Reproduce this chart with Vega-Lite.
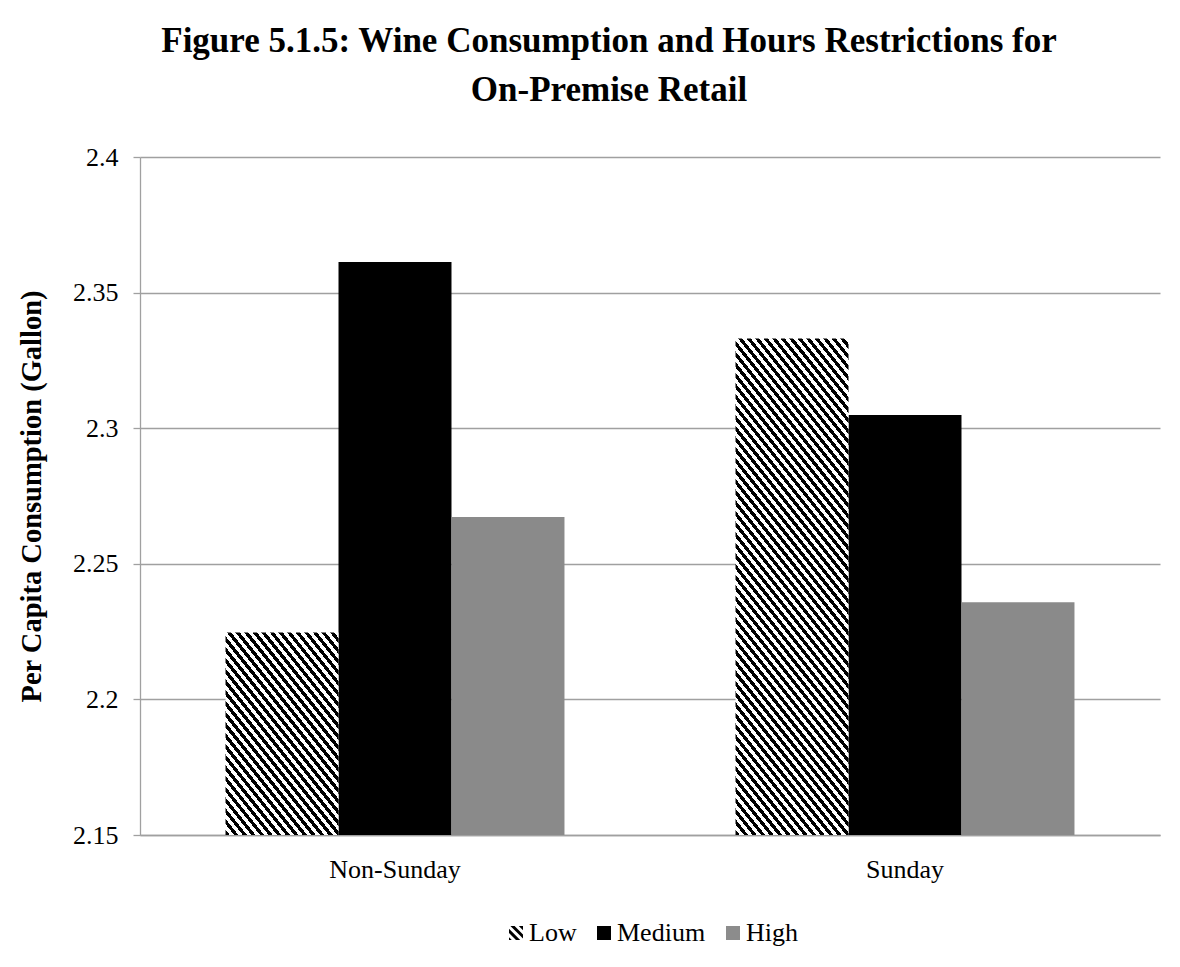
{
  "$schema": "https://vega.github.io/schema/vega-lite/v6.json",
  "width": 1020,
  "height": 678,
  "autosize": {"type": "none"},
  "padding": {"left": 140, "top": 157, "right": 20, "bottom": 132},
  "background": "white",
  "title": {
    "text": ["Figure 5.1.5: Wine Consumption and Hours Restrictions for", "On-Premise Retail"],
    "font": "Liberation Serif",
    "fontSize": 35,
    "fontWeight": "bold",
    "color": "black",
    "lineHeight": 49,
    "anchor": "middle",
    "dx": -41,
    "offset": 36
  },
  "data": {
    "values": [
      {"day": "Non-Sunday", "level": "Low", "value": 2.2247},
      {"day": "Non-Sunday", "level": "Medium", "value": 2.3613},
      {"day": "Non-Sunday", "level": "High", "value": 2.2673},
      {"day": "Sunday", "level": "Low", "value": 2.3331},
      {"day": "Sunday", "level": "Medium", "value": 2.3049},
      {"day": "Sunday", "level": "High", "value": 2.2358}
    ]
  },
  "encoding": {
    "x": {
      "field": "day",
      "type": "nominal",
      "scale": {"domain": ["Non-Sunday", "Sunday"], "paddingInner": 0, "paddingOuter": 0},
      "axis": {
        "title": null,
        "labelAngle": 0,
        "labelFont": "Liberation Serif",
        "labelFontSize": 26,
        "labelColor": "black",
        "ticks": false,
        "labelPadding": 21,
        "domainColor": "#a0a0a0",
        "domainWidth": 1.3,
        "grid": false
      }
    },
    "xOffset": {
      "field": "level",
      "type": "nominal",
      "scale": {"domain": ["Low", "Medium", "High"], "paddingInner": 0, "paddingOuter": 0.757}
    },
    "y": {
      "field": "value",
      "type": "quantitative",
      "scale": {"domain": [2.15, 2.4], "zero": false, "nice": false},
      "axis": {
        "title": "Per Capita Consumption (Gallon)",
        "titleFont": "Liberation Serif",
        "titleFontSize": 28.5,
        "titleFontWeight": "bold",
        "titleColor": "black",
        "titlePadding": 26,
        "values": [2.15, 2.2, 2.25, 2.3, 2.35, 2.4],
        "format": "~g",
        "labelFont": "Liberation Serif",
        "labelFontSize": 26,
        "labelColor": "black",
        "labelPadding": 15,
        "tickSize": 7,
        "tickColor": "#a0a0a0",
        "tickWidth": 1.3,
        "domainColor": "#a0a0a0",
        "domainWidth": 1.3,
        "grid": true,
        "gridColor": "#a0a0a0",
        "gridWidth": 1.3
      }
    }
  },
  "layer": [
    {
      "mark": {"type": "point", "filled": true, "opacity": 0},
      "encoding": {
        "color": {
          "field": "level",
          "type": "nominal",
          "scale": {"domain": ["Low", "Medium", "High"], "range": ["#000000", "#000000", "#8c8c8c"]},
          "legend": {
            "title": null,
            "orient": "bottom",
            "direction": "horizontal",
            "symbolSize": 196,
            "symbolOpacity": 1,
            "symbolStrokeWidth": 0,
            "labelFont": "Liberation Serif",
            "labelFontSize": 26,
            "labelColor": "black",
            "labelOffset": 0,
            "columnPadding": 14,
            "offset": 38
          }
        },
        "shape": {
          "field": "level",
          "type": "nominal",
          "scale": {
            "domain": ["Low", "Medium", "High"],
            "range": ["M0.4,-1L1,-1L1,-0.4Z M-0.8,-1L-0.2,-1L1,0.2L1,0.8Z M-1,-0.6L-1,0L0,1L0.6,1Z M-1,0.6L-1,1L-0.6,1Z", "square", "square"]
          },
          "legend": {
            "title": null,
            "orient": "bottom",
            "direction": "horizontal",
            "symbolSize": 196,
            "symbolOpacity": 1,
            "symbolStrokeWidth": 0,
            "labelFont": "Liberation Serif",
            "labelFontSize": 26,
            "labelColor": "black",
            "labelOffset": 0,
            "columnPadding": 14,
            "offset": 38
          }
        }
      }
    },
    {
      "transform": [{"filter": "datum.level === 'Medium'"}],
      "mark": {"type": "bar", "fill": "#000000"},
      "encoding": {"y2": {"datum": 2.15}}
    },
    {
      "transform": [{"filter": "datum.level === 'High'"}],
      "mark": {"type": "bar", "fill": "#8a8a8a"},
      "encoding": {"y2": {"datum": 2.15}}
    },
    {
      "transform": [{"filter": "datum.day === 'Non-Sunday' && datum.level === 'Low'"}],
      "mark": {
        "type": "bar",
        "fill": {
            "gradient": "linear", "x1": 0, "y1": 1, "x2": 0.7962, "y2": -0.142,
            "stops": [
{"offset":0,"color":"#000"},
{"offset":0.0156,"color":"#000"},{"offset":0.0156,"color":"#fff"},
{"offset":0.0313,"color":"#fff"},{"offset":0.0313,"color":"#000"},
{"offset":0.0469,"color":"#000"},{"offset":0.0469,"color":"#fff"},
{"offset":0.0625,"color":"#fff"},{"offset":0.0625,"color":"#000"},
{"offset":0.0781,"color":"#000"},{"offset":0.0781,"color":"#fff"},
{"offset":0.0938,"color":"#fff"},{"offset":0.0938,"color":"#000"},
{"offset":0.1094,"color":"#000"},{"offset":0.1094,"color":"#fff"},
{"offset":0.125,"color":"#fff"},{"offset":0.125,"color":"#000"},
{"offset":0.1406,"color":"#000"},{"offset":0.1406,"color":"#fff"},
{"offset":0.1563,"color":"#fff"},{"offset":0.1563,"color":"#000"},
{"offset":0.1719,"color":"#000"},{"offset":0.1719,"color":"#fff"},
{"offset":0.1875,"color":"#fff"},{"offset":0.1875,"color":"#000"},
{"offset":0.2031,"color":"#000"},{"offset":0.2031,"color":"#fff"},
{"offset":0.2188,"color":"#fff"},{"offset":0.2188,"color":"#000"},
{"offset":0.2344,"color":"#000"},{"offset":0.2344,"color":"#fff"},
{"offset":0.25,"color":"#fff"},{"offset":0.25,"color":"#000"},
{"offset":0.2656,"color":"#000"},{"offset":0.2656,"color":"#fff"},
{"offset":0.2813,"color":"#fff"},{"offset":0.2813,"color":"#000"},
{"offset":0.2969,"color":"#000"},{"offset":0.2969,"color":"#fff"},
{"offset":0.3125,"color":"#fff"},{"offset":0.3125,"color":"#000"},
{"offset":0.3281,"color":"#000"},{"offset":0.3281,"color":"#fff"},
{"offset":0.3438,"color":"#fff"},{"offset":0.3438,"color":"#000"},
{"offset":0.3594,"color":"#000"},{"offset":0.3594,"color":"#fff"},
{"offset":0.375,"color":"#fff"},{"offset":0.375,"color":"#000"},
{"offset":0.3906,"color":"#000"},{"offset":0.3906,"color":"#fff"},
{"offset":0.4063,"color":"#fff"},{"offset":0.4063,"color":"#000"},
{"offset":0.4219,"color":"#000"},{"offset":0.4219,"color":"#fff"},
{"offset":0.4375,"color":"#fff"},{"offset":0.4375,"color":"#000"},
{"offset":0.4531,"color":"#000"},{"offset":0.4531,"color":"#fff"},
{"offset":0.4688,"color":"#fff"},{"offset":0.4688,"color":"#000"},
{"offset":0.4844,"color":"#000"},{"offset":0.4844,"color":"#fff"},
{"offset":0.5,"color":"#fff"},{"offset":0.5,"color":"#000"},
{"offset":0.5156,"color":"#000"},{"offset":0.5156,"color":"#fff"},
{"offset":0.5313,"color":"#fff"},{"offset":0.5313,"color":"#000"},
{"offset":0.5469,"color":"#000"},{"offset":0.5469,"color":"#fff"},
{"offset":0.5625,"color":"#fff"},{"offset":0.5625,"color":"#000"},
{"offset":0.5781,"color":"#000"},{"offset":0.5781,"color":"#fff"},
{"offset":0.5938,"color":"#fff"},{"offset":0.5938,"color":"#000"},
{"offset":0.6094,"color":"#000"},{"offset":0.6094,"color":"#fff"},
{"offset":0.625,"color":"#fff"},{"offset":0.625,"color":"#000"},
{"offset":0.6406,"color":"#000"},{"offset":0.6406,"color":"#fff"},
{"offset":0.6563,"color":"#fff"},{"offset":0.6563,"color":"#000"},
{"offset":0.6719,"color":"#000"},{"offset":0.6719,"color":"#fff"},
{"offset":0.6875,"color":"#fff"},{"offset":0.6875,"color":"#000"},
{"offset":0.7031,"color":"#000"},{"offset":0.7031,"color":"#fff"},
{"offset":0.7188,"color":"#fff"},{"offset":0.7188,"color":"#000"},
{"offset":0.7344,"color":"#000"},{"offset":0.7344,"color":"#fff"},
{"offset":0.75,"color":"#fff"},{"offset":0.75,"color":"#000"},
{"offset":0.7656,"color":"#000"},{"offset":0.7656,"color":"#fff"},
{"offset":0.7813,"color":"#fff"},{"offset":0.7813,"color":"#000"},
{"offset":0.7969,"color":"#000"},{"offset":0.7969,"color":"#fff"},
{"offset":0.8125,"color":"#fff"},{"offset":0.8125,"color":"#000"},
{"offset":0.8281,"color":"#000"},{"offset":0.8281,"color":"#fff"},
{"offset":0.8438,"color":"#fff"},{"offset":0.8438,"color":"#000"},
{"offset":0.8594,"color":"#000"},{"offset":0.8594,"color":"#fff"},
{"offset":0.875,"color":"#fff"},{"offset":0.875,"color":"#000"},
{"offset":0.8906,"color":"#000"},{"offset":0.8906,"color":"#fff"},
{"offset":0.9063,"color":"#fff"},{"offset":0.9063,"color":"#000"},
{"offset":0.9219,"color":"#000"},{"offset":0.9219,"color":"#fff"},
{"offset":0.9375,"color":"#fff"},{"offset":0.9375,"color":"#000"},
{"offset":0.9531,"color":"#000"},{"offset":0.9531,"color":"#fff"},
{"offset":0.9688,"color":"#fff"},{"offset":0.9688,"color":"#000"},
{"offset":0.9844,"color":"#000"},{"offset":0.9844,"color":"#fff"},
{"offset":1,"color":"#fff"}
            ]
        }
      },
      "encoding": {"y2": {"datum": 2.15}}
    },
    {
      "transform": [{"filter": "datum.day === 'Sunday' && datum.level === 'Low'"}],
      "mark": {
        "type": "bar",
        "fill": {
            "gradient": "linear", "x1": 0, "y1": 1, "x2": 0.338, "y2": -0.1883,
            "stops": [
{"offset":0,"color":"#000"},
{"offset":0.0083,"color":"#000"},{"offset":0.0083,"color":"#fff"},
{"offset":0.0167,"color":"#fff"},{"offset":0.0167,"color":"#000"},
{"offset":0.025,"color":"#000"},{"offset":0.025,"color":"#fff"},
{"offset":0.0333,"color":"#fff"},{"offset":0.0333,"color":"#000"},
{"offset":0.0417,"color":"#000"},{"offset":0.0417,"color":"#fff"},
{"offset":0.05,"color":"#fff"},{"offset":0.05,"color":"#000"},
{"offset":0.0583,"color":"#000"},{"offset":0.0583,"color":"#fff"},
{"offset":0.0667,"color":"#fff"},{"offset":0.0667,"color":"#000"},
{"offset":0.075,"color":"#000"},{"offset":0.075,"color":"#fff"},
{"offset":0.0833,"color":"#fff"},{"offset":0.0833,"color":"#000"},
{"offset":0.0917,"color":"#000"},{"offset":0.0917,"color":"#fff"},
{"offset":0.1,"color":"#fff"},{"offset":0.1,"color":"#000"},
{"offset":0.1083,"color":"#000"},{"offset":0.1083,"color":"#fff"},
{"offset":0.1167,"color":"#fff"},{"offset":0.1167,"color":"#000"},
{"offset":0.125,"color":"#000"},{"offset":0.125,"color":"#fff"},
{"offset":0.1333,"color":"#fff"},{"offset":0.1333,"color":"#000"},
{"offset":0.1417,"color":"#000"},{"offset":0.1417,"color":"#fff"},
{"offset":0.15,"color":"#fff"},{"offset":0.15,"color":"#000"},
{"offset":0.1583,"color":"#000"},{"offset":0.1583,"color":"#fff"},
{"offset":0.1667,"color":"#fff"},{"offset":0.1667,"color":"#000"},
{"offset":0.175,"color":"#000"},{"offset":0.175,"color":"#fff"},
{"offset":0.1833,"color":"#fff"},{"offset":0.1833,"color":"#000"},
{"offset":0.1917,"color":"#000"},{"offset":0.1917,"color":"#fff"},
{"offset":0.2,"color":"#fff"},{"offset":0.2,"color":"#000"},
{"offset":0.2083,"color":"#000"},{"offset":0.2083,"color":"#fff"},
{"offset":0.2167,"color":"#fff"},{"offset":0.2167,"color":"#000"},
{"offset":0.225,"color":"#000"},{"offset":0.225,"color":"#fff"},
{"offset":0.2333,"color":"#fff"},{"offset":0.2333,"color":"#000"},
{"offset":0.2417,"color":"#000"},{"offset":0.2417,"color":"#fff"},
{"offset":0.25,"color":"#fff"},{"offset":0.25,"color":"#000"},
{"offset":0.2583,"color":"#000"},{"offset":0.2583,"color":"#fff"},
{"offset":0.2667,"color":"#fff"},{"offset":0.2667,"color":"#000"},
{"offset":0.275,"color":"#000"},{"offset":0.275,"color":"#fff"},
{"offset":0.2833,"color":"#fff"},{"offset":0.2833,"color":"#000"},
{"offset":0.2917,"color":"#000"},{"offset":0.2917,"color":"#fff"},
{"offset":0.3,"color":"#fff"},{"offset":0.3,"color":"#000"},
{"offset":0.3083,"color":"#000"},{"offset":0.3083,"color":"#fff"},
{"offset":0.3167,"color":"#fff"},{"offset":0.3167,"color":"#000"},
{"offset":0.325,"color":"#000"},{"offset":0.325,"color":"#fff"},
{"offset":0.3333,"color":"#fff"},{"offset":0.3333,"color":"#000"},
{"offset":0.3417,"color":"#000"},{"offset":0.3417,"color":"#fff"},
{"offset":0.35,"color":"#fff"},{"offset":0.35,"color":"#000"},
{"offset":0.3583,"color":"#000"},{"offset":0.3583,"color":"#fff"},
{"offset":0.3667,"color":"#fff"},{"offset":0.3667,"color":"#000"},
{"offset":0.375,"color":"#000"},{"offset":0.375,"color":"#fff"},
{"offset":0.3833,"color":"#fff"},{"offset":0.3833,"color":"#000"},
{"offset":0.3917,"color":"#000"},{"offset":0.3917,"color":"#fff"},
{"offset":0.4,"color":"#fff"},{"offset":0.4,"color":"#000"},
{"offset":0.4083,"color":"#000"},{"offset":0.4083,"color":"#fff"},
{"offset":0.4167,"color":"#fff"},{"offset":0.4167,"color":"#000"},
{"offset":0.425,"color":"#000"},{"offset":0.425,"color":"#fff"},
{"offset":0.4333,"color":"#fff"},{"offset":0.4333,"color":"#000"},
{"offset":0.4417,"color":"#000"},{"offset":0.4417,"color":"#fff"},
{"offset":0.45,"color":"#fff"},{"offset":0.45,"color":"#000"},
{"offset":0.4583,"color":"#000"},{"offset":0.4583,"color":"#fff"},
{"offset":0.4667,"color":"#fff"},{"offset":0.4667,"color":"#000"},
{"offset":0.475,"color":"#000"},{"offset":0.475,"color":"#fff"},
{"offset":0.4833,"color":"#fff"},{"offset":0.4833,"color":"#000"},
{"offset":0.4917,"color":"#000"},{"offset":0.4917,"color":"#fff"},
{"offset":0.5,"color":"#fff"},{"offset":0.5,"color":"#000"},
{"offset":0.5083,"color":"#000"},{"offset":0.5083,"color":"#fff"},
{"offset":0.5167,"color":"#fff"},{"offset":0.5167,"color":"#000"},
{"offset":0.525,"color":"#000"},{"offset":0.525,"color":"#fff"},
{"offset":0.5333,"color":"#fff"},{"offset":0.5333,"color":"#000"},
{"offset":0.5417,"color":"#000"},{"offset":0.5417,"color":"#fff"},
{"offset":0.55,"color":"#fff"},{"offset":0.55,"color":"#000"},
{"offset":0.5583,"color":"#000"},{"offset":0.5583,"color":"#fff"},
{"offset":0.5667,"color":"#fff"},{"offset":0.5667,"color":"#000"},
{"offset":0.575,"color":"#000"},{"offset":0.575,"color":"#fff"},
{"offset":0.5833,"color":"#fff"},{"offset":0.5833,"color":"#000"},
{"offset":0.5917,"color":"#000"},{"offset":0.5917,"color":"#fff"},
{"offset":0.6,"color":"#fff"},{"offset":0.6,"color":"#000"},
{"offset":0.6083,"color":"#000"},{"offset":0.6083,"color":"#fff"},
{"offset":0.6167,"color":"#fff"},{"offset":0.6167,"color":"#000"},
{"offset":0.625,"color":"#000"},{"offset":0.625,"color":"#fff"},
{"offset":0.6333,"color":"#fff"},{"offset":0.6333,"color":"#000"},
{"offset":0.6417,"color":"#000"},{"offset":0.6417,"color":"#fff"},
{"offset":0.65,"color":"#fff"},{"offset":0.65,"color":"#000"},
{"offset":0.6583,"color":"#000"},{"offset":0.6583,"color":"#fff"},
{"offset":0.6667,"color":"#fff"},{"offset":0.6667,"color":"#000"},
{"offset":0.675,"color":"#000"},{"offset":0.675,"color":"#fff"},
{"offset":0.6833,"color":"#fff"},{"offset":0.6833,"color":"#000"},
{"offset":0.6917,"color":"#000"},{"offset":0.6917,"color":"#fff"},
{"offset":0.7,"color":"#fff"},{"offset":0.7,"color":"#000"},
{"offset":0.7083,"color":"#000"},{"offset":0.7083,"color":"#fff"},
{"offset":0.7167,"color":"#fff"},{"offset":0.7167,"color":"#000"},
{"offset":0.725,"color":"#000"},{"offset":0.725,"color":"#fff"},
{"offset":0.7333,"color":"#fff"},{"offset":0.7333,"color":"#000"},
{"offset":0.7417,"color":"#000"},{"offset":0.7417,"color":"#fff"},
{"offset":0.75,"color":"#fff"},{"offset":0.75,"color":"#000"},
{"offset":0.7583,"color":"#000"},{"offset":0.7583,"color":"#fff"},
{"offset":0.7667,"color":"#fff"},{"offset":0.7667,"color":"#000"},
{"offset":0.775,"color":"#000"},{"offset":0.775,"color":"#fff"},
{"offset":0.7833,"color":"#fff"},{"offset":0.7833,"color":"#000"},
{"offset":0.7917,"color":"#000"},{"offset":0.7917,"color":"#fff"},
{"offset":0.8,"color":"#fff"},{"offset":0.8,"color":"#000"},
{"offset":0.8083,"color":"#000"},{"offset":0.8083,"color":"#fff"},
{"offset":0.8167,"color":"#fff"},{"offset":0.8167,"color":"#000"},
{"offset":0.825,"color":"#000"},{"offset":0.825,"color":"#fff"},
{"offset":0.8333,"color":"#fff"},{"offset":0.8333,"color":"#000"},
{"offset":0.8417,"color":"#000"},{"offset":0.8417,"color":"#fff"},
{"offset":0.85,"color":"#fff"},{"offset":0.85,"color":"#000"},
{"offset":0.8583,"color":"#000"},{"offset":0.8583,"color":"#fff"},
{"offset":0.8667,"color":"#fff"},{"offset":0.8667,"color":"#000"},
{"offset":0.875,"color":"#000"},{"offset":0.875,"color":"#fff"},
{"offset":0.8833,"color":"#fff"},{"offset":0.8833,"color":"#000"},
{"offset":0.8917,"color":"#000"},{"offset":0.8917,"color":"#fff"},
{"offset":0.9,"color":"#fff"},{"offset":0.9,"color":"#000"},
{"offset":0.9083,"color":"#000"},{"offset":0.9083,"color":"#fff"},
{"offset":0.9167,"color":"#fff"},{"offset":0.9167,"color":"#000"},
{"offset":0.925,"color":"#000"},{"offset":0.925,"color":"#fff"},
{"offset":0.9333,"color":"#fff"},{"offset":0.9333,"color":"#000"},
{"offset":0.9417,"color":"#000"},{"offset":0.9417,"color":"#fff"},
{"offset":0.95,"color":"#fff"},{"offset":0.95,"color":"#000"},
{"offset":0.9583,"color":"#000"},{"offset":0.9583,"color":"#fff"},
{"offset":0.9667,"color":"#fff"},{"offset":0.9667,"color":"#000"},
{"offset":0.975,"color":"#000"},{"offset":0.975,"color":"#fff"},
{"offset":0.9833,"color":"#fff"},{"offset":0.9833,"color":"#000"},
{"offset":0.9917,"color":"#000"},{"offset":0.9917,"color":"#fff"},
{"offset":1,"color":"#fff"}
            ]
        }
      },
      "encoding": {"y2": {"datum": 2.15}}
    }
  ],
  "config": {
    "view": {"stroke": null},
    "font": "Liberation Serif",
    "legend": {"layout": {"bottom": {"anchor": "middle", "bounds": "full"}}}
  }
}
